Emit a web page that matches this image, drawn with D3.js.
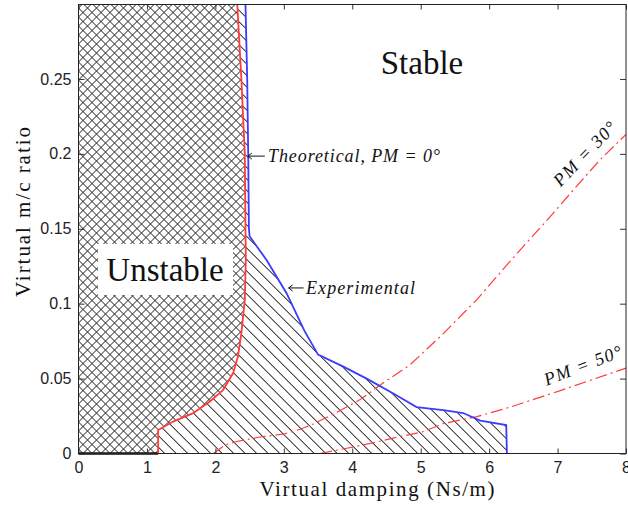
<!DOCTYPE html>
<html>
<head>
    <meta charset="utf-8" />
    <title>Stability region: virtual damping vs virtual m/c ratio</title>
    <script src="https://cdn.jsdelivr.net/npm/d3@7"></script>
    <style>
        body { margin: 0; background: #fff; }
        .tick text { font-family: "Liberation Sans", Arial, sans-serif; font-size: 16px; fill: #222; }
        .tick line { stroke: #333; }
        .serif { font-family: "Liberation Serif", "Times New Roman", serif; fill: #111; }
        .math { font-family: "Liberation Serif", "Times New Roman", serif; font-style: italic; fill: #111; }
    </style>
</head>
<body>
<svg id="chart" width="628" height="506"></svg>
<script>
    // tick values
    var xTicks = [0, 1, 2, 3, 4, 5, 6, 7, 8];
    var yTicks = [0, 0.05, 0.1, 0.15, 0.2, 0.25];

    // theoretical boundary, PM = 0 deg  [damping, m/c ratio]
    var theoretical = [
        [1.164, 0], [1.164, 0.0157], [1.383, 0.0213], [1.676, 0.0269], [1.92, 0.0347],
        [2.114, 0.0425], [2.26, 0.0537], [2.33, 0.0648], [2.38, 0.0804], [2.43, 0.1027],
        [2.445, 0.13], [2.44, 0.15], [2.43, 0.2], [2.38, 0.25], [2.32, 0.2997]
    ];

    // experimental boundary
    var experimental = [
        [2.44, 0.2997], [2.465, 0.25], [2.48, 0.2], [2.49, 0.15], [2.5, 0.145],
        [2.75, 0.129], [3.04, 0.107], [3.3, 0.082], [3.5, 0.066], [3.87, 0.058],
        [4.21, 0.050], [4.6, 0.040], [4.94, 0.031], [5.33, 0.029], [5.62, 0.027],
        [5.87, 0.022], [6.25, 0.019], [6.26, 0]
    ];

    // phase margin curves
    var pm30 = [
        [1.97, 0], [2.14, 0.0057], [2.31, 0.008], [2.65, 0.011], [3.0, 0.013],
        [3.24, 0.0162], [3.43, 0.0197], [3.77, 0.0273], [4.11, 0.0358], [4.45, 0.047],
        [4.84, 0.059], [5.33, 0.080], [5.82, 0.1027], [6.35, 0.1306], [6.89, 0.158],
        [7.28, 0.1785], [7.62, 0.196], [8.0, 0.213]
    ];
    var pm50 = [
        [3.53, 0], [3.92, 0.0035], [4.31, 0.0072], [4.65, 0.0108], [5.04, 0.0146],
        [5.33, 0.020], [5.82, 0.0246], [6.31, 0.031], [7.04, 0.042], [8.0, 0.057]
    ];

    var svg = d3.select("#chart");
    // plot box (note: "top" is a reserved window property, so use other names)
    var pL = 78.5, pR = 626, pT = 4.5, pB = 453.5;

    var x = d3.scaleLinear().domain([0, 8]).range([pL, pR]);
    var y = d3.scaleLinear().domain([0, 0.2997]).range([pB, pT]);

    var line = d3.line().x(function(d) { return x(d[0]); }).y(function(d) { return y(d[1]); });

    // hatch patterns
    var defs = svg.append("defs");
    var cs = 9 / Math.SQRT2;
    var cross = defs.append("pattern")
        .attr("id", "cross").attr("patternUnits", "userSpaceOnUse")
        .attr("width", cs).attr("height", cs)
        .attr("patternTransform", "translate(" + pL + "," + pB + ") rotate(45)");
    cross.append("path")
        .attr("d", "M0," + cs / 2 + "H" + cs + "M" + cs / 2 + ",0V" + cs)
        .attr("stroke", "#333").attr("stroke-width", 0.85);

    var ds = 11.5 / Math.SQRT2;
    var diag = defs.append("pattern")
        .attr("id", "diag").attr("patternUnits", "userSpaceOnUse")
        .attr("width", ds).attr("height", ds)
        .attr("patternTransform", "translate(" + pL + "," + pB + ") rotate(45)");
    diag.append("path")
        .attr("d", "M0," + ds / 2 + "H" + ds)
        .attr("stroke", "#222").attr("stroke-width", 0.95);

    // cross-hatched region: left of the theoretical boundary
    var crossArea = [[0, 0.2997], [0, 0]].concat(theoretical);
    svg.append("path")
        .attr("d", line(crossArea) + "Z")
        .attr("fill", "url(#cross)");

    // diagonal hatch: between theoretical (going up) and experimental (coming down)
    var diagArea = theoretical.concat(experimental);
    svg.append("path")
        .attr("d", line(diagArea) + "Z")
        .attr("fill", "url(#diag)");

    // thick bottom edge under unstable region
    svg.append("path")
        .attr("d", line([[0, 0], [theoretical[0][0], 0]]))
        .attr("stroke", "#111").attr("stroke-width", 2.5).attr("fill", "none");

    // curves
    svg.append("path").attr("d", line(pm30))
        .attr("fill", "none").attr("stroke", "#ff3b3b").attr("stroke-width", 1.2)
        .attr("stroke-dasharray", "12,4,2,4");
    svg.append("path").attr("d", line(pm50))
        .attr("fill", "none").attr("stroke", "#ff3b3b").attr("stroke-width", 1.2)
        .attr("stroke-dasharray", "12,4,2,4");
    svg.append("path").attr("d", line(theoretical))
        .attr("fill", "none").attr("stroke", "#ff3b3b").attr("stroke-width", 1.8);
    svg.append("path").attr("d", line(experimental))
        .attr("fill", "none").attr("stroke", "#3b3bff").attr("stroke-width", 1.8);

    // axes with inward ticks
    svg.append("g")
        .attr("transform", "translate(0," + pB + ")")
        .call(d3.axisBottom(x).tickValues(xTicks).tickSize(-5).tickPadding(8).tickFormat(d3.format("d")))
        .call(function(g) { g.select(".domain").remove(); });
    svg.append("g")
        .attr("transform", "translate(0," + pT + ")")
        .call(d3.axisTop(x).tickValues(xTicks).tickSize(-5).tickFormat(""))
        .call(function(g) { g.select(".domain").remove(); });
    svg.append("g")
        .attr("transform", "translate(" + pL + ",0)")
        .call(d3.axisLeft(y).tickValues(yTicks).tickSize(-6).tickPadding(7).tickFormat(d3.format("~g")))
        .call(function(g) { g.select(".domain").remove(); });
    svg.append("g")
        .attr("transform", "translate(" + pR + ",0)")
        .call(d3.axisRight(y).tickValues(yTicks).tickSize(-6).tickFormat(""))
        .call(function(g) { g.select(".domain").remove(); });

    svg.append("rect")
        .attr("x", pL).attr("y", pT)
        .attr("width", pR - pL).attr("height", pB - pT)
        .attr("fill", "none").attr("stroke", "#222").attr("stroke-width", 1);

    // region labels
    svg.append("text").attr("class", "serif")
        .attr("x", 422).attr("y", 74)
        .attr("text-anchor", "middle").attr("font-size", 33)
        .text("Stable");

    svg.append("rect")
        .attr("x", 98).attr("y", 244).attr("width", 135).attr("height", 51)
        .attr("fill", "#fff");
    svg.append("text").attr("class", "serif")
        .attr("x", 165).attr("y", 281)
        .attr("text-anchor", "middle").attr("font-size", 33)
        .text("Unstable");

    // annotation arrows, placed in data coordinates
    function arrow(d, len) {
        var ax = x(d[0]), ay = y(d[1]);
        svg.append("path")
            .attr("d", "M" + ax + "," + ay + "H" + (ax + len) +
                "M" + (ax + 4) + "," + (ay - 3) + "L" + ax + "," + ay + "L" + (ax + 4) + "," + (ay + 3))
            .attr("fill", "none").attr("stroke", "#111").attr("stroke-width", 1);
    }
    arrow([2.475, 0.1985], 17);
    arrow([3.07, 0.1105], 15);

    svg.append("text").attr("class", "math")
        .attr("x", 268).attr("y", 162)
        .attr("font-size", 18).attr("textLength", 172).attr("lengthAdjust", "spacing")
        .text("Theoretical, PM = 0\u00b0");
    svg.append("text").attr("class", "math")
        .attr("x", 306).attr("y", 294)
        .attr("font-size", 18).attr("textLength", 109).attr("lengthAdjust", "spacing")
        .text("Experimental");

    svg.append("text").attr("class", "math")
        .attr("transform", "translate(589,158) rotate(-46)")
        .attr("text-anchor", "middle").attr("font-size", 18)
        .attr("textLength", 82).attr("lengthAdjust", "spacing")
        .text("PM = 30\u00b0");
    svg.append("text").attr("class", "math")
        .attr("transform", "translate(585,371) rotate(-21)")
        .attr("text-anchor", "middle").attr("font-size", 18)
        .attr("textLength", 82).attr("lengthAdjust", "spacing")
        .text("PM = 50\u00b0");

    // axis titles
    svg.append("text").attr("class", "serif")
        .attr("x", 377).attr("y", 496)
        .attr("text-anchor", "middle").attr("font-size", 21)
        .attr("textLength", 235).attr("lengthAdjust", "spacing")
        .text("Virtual damping (Ns/m)");
    svg.append("text").attr("class", "serif")
        .attr("transform", "translate(30,212) rotate(-90)")
        .attr("text-anchor", "middle").attr("font-size", 21)
        .attr("textLength", 170).attr("lengthAdjust", "spacing")
        .text("Virtual m/c ratio");
</script>
</body>
</html>
